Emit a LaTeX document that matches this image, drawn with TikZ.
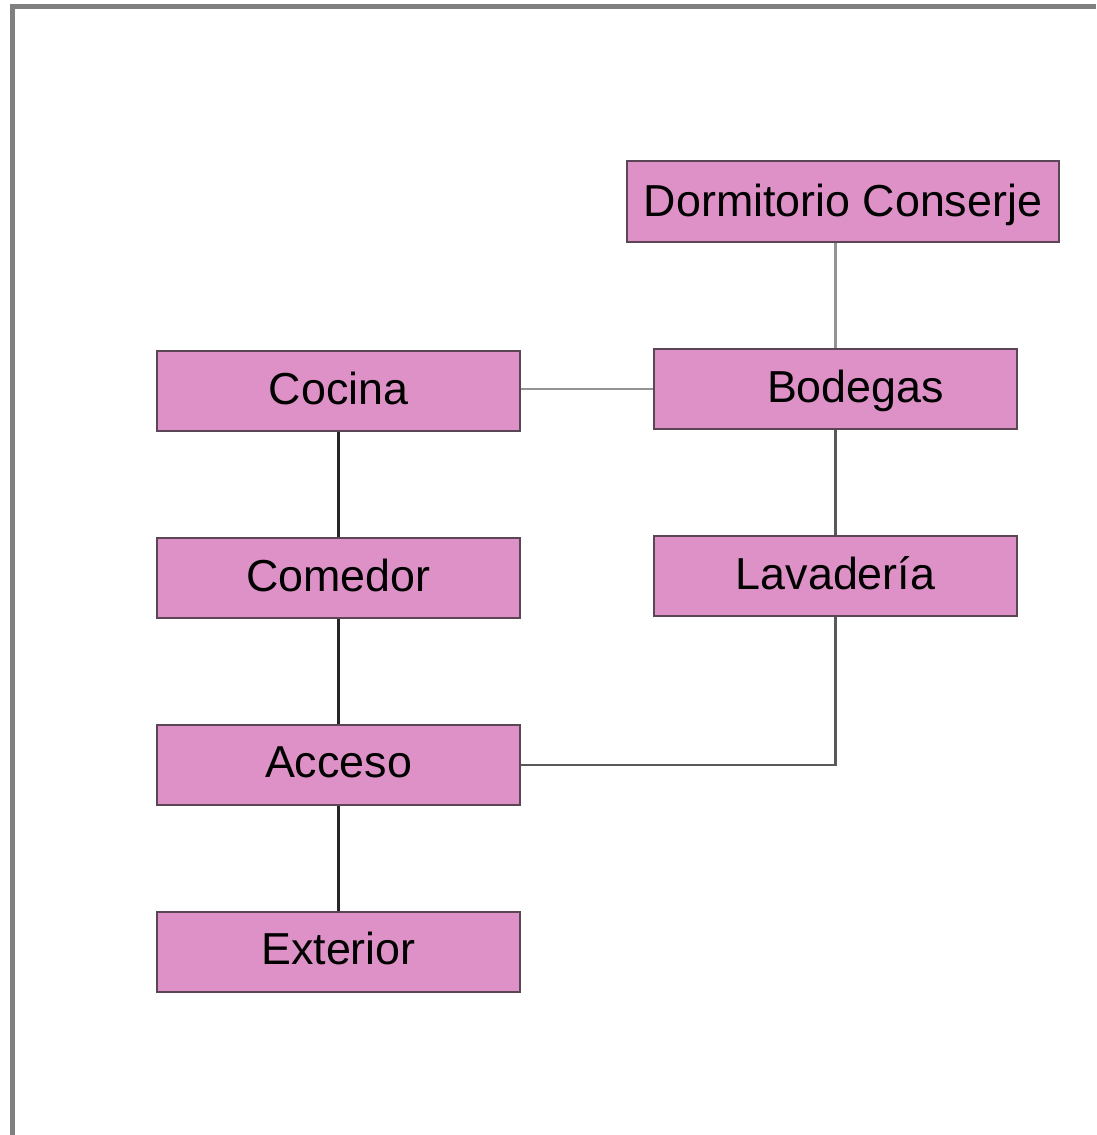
\documentclass[tikz,border=0pt]{standalone}
\usepackage{fontspec}
\setmainfont{Liberation Sans}
\usepackage{tikz}
\usetikzlibrary{positioning}
\definecolor{roompink}{HTML}{DD91C6}
\definecolor{roomedge}{HTML}{5A4654}
\definecolor{framegray}{HTML}{808080}
\tikzset{
    roombox/.style={draw=roomedge, fill=roompink, line width=1.1pt, minimum width=7.26cm, minimum height=1.6cm,
        inner sep=0pt, text height=15pt, text depth=0pt, font=\fontsize{25.5}{30}\selectfont},
    lightlink/.style={draw=gray!85, line width=1.2pt},
    midlink/.style={draw=black!65, line width=1.2pt},
    darklink/.style={draw=black!85, line width=1.2pt},
}
\begin{document}
\begin{tikzpicture}[x=0.02cm, y=-0.02cm]
\useasboundingbox (0,0) rectangle (1096,1135);
\draw[framegray, line width=0.1cm] (12.5,1135) -- (12.5,6.5) -- (1096,6.5);

\node[roombox, minimum width=8.64cm, minimum height=1.62cm, text height=17pt] (dorm) at (843,201.5) {Dormitorio Conserje};
\node[roombox] (cocina) at (338.5,391) {Cocina};
\node[roombox] (bodegas) at (835.5,389) {\hspace*{0.8cm}Bodegas};
\node[roombox, below=2.1cm of cocina] (comedor) {Comedor};
\node[roombox, below=2.1cm of bodegas] (lavad) {Lavadería};
\node[roombox, below=2.1cm of comedor] (acceso) {Acceso};
\node[roombox, below=2.1cm of acceso] (exterior) {Exterior};

\draw[lightlink] (dorm.south -| bodegas) -- (bodegas.north);
\draw[lightlink] (cocina.east |- bodegas) -- (bodegas.west);
\draw[midlink] (bodegas) -- (lavad);
\draw[darklink] (cocina) -- (comedor);
\draw[darklink] (comedor) -- (acceso);
\draw[darklink] (acceso) -- (exterior);
\draw[midlink] (acceso.east) -| (lavad.south);
\end{tikzpicture}
\end{document}
